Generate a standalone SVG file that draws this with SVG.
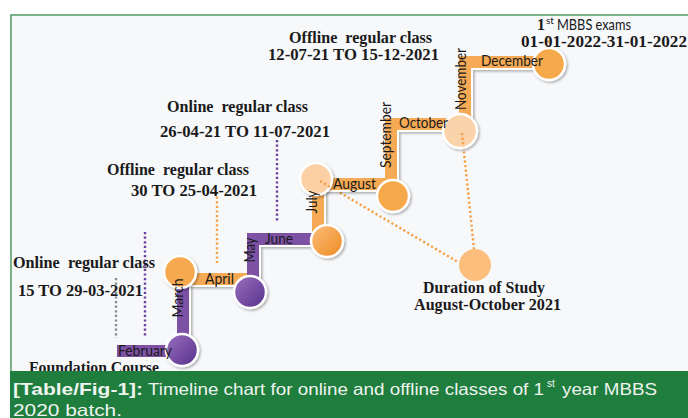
<svg xmlns="http://www.w3.org/2000/svg" width="688" height="418" viewBox="0 0 688 418">
<defs>
<filter id="sh" x="-20%" y="-20%" width="150%" height="150%"><feDropShadow dx="1.5" dy="1.5" stdDeviation="1.2" flood-color="#000" flood-opacity="0.3"/></filter>
<linearGradient id="gp" x1="0" y1="0" x2="1" y2="1"><stop offset="0" stop-color="#9a70bf"/><stop offset="1" stop-color="#56308a"/></linearGradient>
<linearGradient id="go" x1="0" y1="0" x2="1" y2="1"><stop offset="0" stop-color="#fbbf7a"/><stop offset="1" stop-color="#ee8a22"/></linearGradient>
<style>
.t{font-family:"Liberation Serif","DejaVu Serif",serif;font-weight:bold;font-size:16px;fill:#1a1a1a;white-space:pre}
.m{font-family:Lato,"Open Sans","Liberation Sans",sans-serif;font-size:15px;fill:#1a1a1a}
.cap{font-family:"Liberation Sans",Arial,sans-serif;font-size:16.5px;fill:#eef4ef}
.sup{font-size:10px}
.bw{fill:none;stroke:#fff;stroke-width:13;filter:url(#sh)}
.bp{fill:none;stroke:#7d52a5;stroke-width:12}
.bo{fill:none;stroke:#f6aa55;stroke-width:12}
.c{stroke:#fff;stroke-width:2.5;filter:url(#sh)}
.d{fill:none;stroke-width:2.4;stroke-dasharray:2.2 2.4}
</style>
</defs>
<rect x="0" y="0" width="688" height="418" fill="#fff"/>
<rect x="11" y="15" width="690" height="360" fill="#f7f8fa" stroke="#4f9a63" stroke-width="1.5"/>

<g id="connectors">
<path class="d" stroke="#8a8a8a" d="M116 278 V338"/>
<path class="d" stroke="#6a3fa0" d="M145 232 V337"/>
<path class="d" stroke="#f5a044" d="M217 192 V263"/>
<path class="d" stroke="#6a3fa0" d="M277 140 V222"/>
<path class="d" stroke="#f5a044" d="M320 181 L458 262"/>
<path class="d" stroke="#f5a044" d="M462 133 L474 249"/>
<path class="d" stroke="#f5a044" d="M548 36 V48"/>
</g>

<g id="seg-february">
<path class="bw" d="M117 352.5 H182"/>
<path class="bp" d="M117 351 H182"/>
</g>
<g id="seg-march-april">
<path class="bw" d="M184.5 351 V280.5 H250"/>
<path class="bp" d="M183 351 V273"/>
<path class="bo" d="M177 279 H250"/>
</g>
<g id="seg-may-june">
<path class="bw" d="M254.5 292 V240.5 H327"/>
<path class="bp" d="M253 292 V239 H327"/>
</g>
<g id="seg-july-august">
<path class="bw" d="M319.5 241 V185.5 H393"/>
<path class="bo" d="M318 241 V184 H393"/>
</g>
<g id="seg-september-october">
<path class="bw" d="M392.5 196 V125.5 H460"/>
<path class="bo" d="M391 196 V124 H460"/>
</g>
<g id="seg-november-december">
<path class="bw" d="M466.5 131 V63.5 H548"/>
<path class="bo" d="M465 131 V62 H548"/>
</g>

<g id="node-feb"><circle class="c" cx="182" cy="350" r="16" fill="url(#gp)"/></g>
<g id="node-march"><circle class="c" cx="180" cy="272" r="16" fill="#f6a94f"/></g>
<g id="node-may"><circle class="c" cx="250" cy="292" r="16" fill="url(#gp)"/></g>
<g id="node-june"><circle class="c" cx="327" cy="241" r="16" fill="url(#go)"/></g>
<g id="node-july"><circle class="c" cx="316" cy="179" r="16" fill="#fcd0a4"/></g>
<g id="node-september"><circle class="c" cx="393" cy="196" r="16" fill="#f6a94b"/></g>
<g id="node-october"><circle class="c" cx="460" cy="131" r="17" fill="#fbd3ab"/></g>
<g id="node-december"><circle class="c" cx="549" cy="64" r="16" fill="#f6a94b"/></g>
<g id="node-duration"><circle cx="475" cy="265" r="16" fill="#fcbe7c"/></g>

<path class="d" stroke="#f5a044" d="M320 181 L336 190.5"/>
<path class="d" stroke="#f5a044" d="M462 133 L463.5 147"/>

<g id="month-labels">
<text class="m" x="118" y="356" textLength="54" lengthAdjust="spacingAndGlyphs">February</text>
<text class="m" transform="translate(183,298) rotate(-90)" text-anchor="middle" textLength="39" lengthAdjust="spacingAndGlyphs">March</text>
<text class="m" x="205" y="284" textLength="29" lengthAdjust="spacingAndGlyphs">April</text>
<text class="m" transform="translate(255,250) rotate(-90)" text-anchor="middle" textLength="25" lengthAdjust="spacingAndGlyphs">May</text>
<text class="m" x="265" y="244" textLength="28" lengthAdjust="spacingAndGlyphs">June</text>
<text class="m" transform="translate(317,202) rotate(-90)" text-anchor="middle" textLength="23" lengthAdjust="spacingAndGlyphs">July</text>
<text class="m" x="333" y="189" textLength="43" lengthAdjust="spacingAndGlyphs">August</text>
<text class="m" transform="translate(391,135) rotate(-90)" text-anchor="middle" textLength="66" lengthAdjust="spacingAndGlyphs">September</text>
<text class="m" x="399" y="128" textLength="49" lengthAdjust="spacingAndGlyphs">October</text>
<text class="m" transform="translate(466,79) rotate(-90)" text-anchor="middle" textLength="62" lengthAdjust="spacingAndGlyphs">November</text>
<text class="m" x="481" y="66" textLength="62" lengthAdjust="spacingAndGlyphs">December</text>
</g>

<g id="labels">
<text class="t" x="289" y="43" textLength="143" lengthAdjust="spacingAndGlyphs">Offline  regular class</text>
<text class="t" x="268" y="60" textLength="171" lengthAdjust="spacingAndGlyphs">12-07-21 TO 15-12-2021</text>
<text class="t" x="537" y="30">1</text>
<text class="m sup" x="546" y="24">st</text>
<text class="m" x="557" y="30" textLength="74" lengthAdjust="spacingAndGlyphs">MBBS exams</text>
<text class="t" x="521" y="47" textLength="166" lengthAdjust="spacingAndGlyphs">01-01-2022-31-01-2022</text>
<text class="t" x="167" y="112" textLength="141" lengthAdjust="spacingAndGlyphs">Online  regular class</text>
<text class="t" x="160" y="137" textLength="170" lengthAdjust="spacingAndGlyphs">26-04-21 TO 11-07-2021</text>
<text class="t" x="107" y="175" textLength="142" lengthAdjust="spacingAndGlyphs">Offline  regular class</text>
<text class="t" x="131" y="196" textLength="126" lengthAdjust="spacingAndGlyphs">30 TO 25-04-2021</text>
<text class="t" x="13" y="268" textLength="142" lengthAdjust="spacingAndGlyphs">Online  regular class</text>
<text class="t" x="18" y="296" textLength="125" lengthAdjust="spacingAndGlyphs">15 TO 29-03-2021</text>
<text class="t" x="29" y="373" textLength="130" lengthAdjust="spacingAndGlyphs">Foundation Course</text>
<text class="t" x="423" y="293" textLength="122" lengthAdjust="spacingAndGlyphs">Duration of Study</text>
<text class="t" x="414" y="310" textLength="147" lengthAdjust="spacingAndGlyphs">August-October 2021</text>
</g>

<g id="caption">
<rect x="10" y="371" width="680" height="47" fill="#1f7d3d"/>
<text class="cap" x="13" y="395" font-weight="bold" textLength="130" lengthAdjust="spacingAndGlyphs">[Table/Fig-1]:</text>
<text class="cap" x="148" y="395" textLength="396" lengthAdjust="spacingAndGlyphs">Timeline chart for online and offline classes of 1</text>
<text class="cap sup" x="547" y="387">st</text>
<text class="cap" x="562" y="395" textLength="95" lengthAdjust="spacingAndGlyphs">year MBBS</text>
<text class="cap" x="13" y="415.5" textLength="109" lengthAdjust="spacingAndGlyphs">2020 batch.</text>
</g>
</svg>
